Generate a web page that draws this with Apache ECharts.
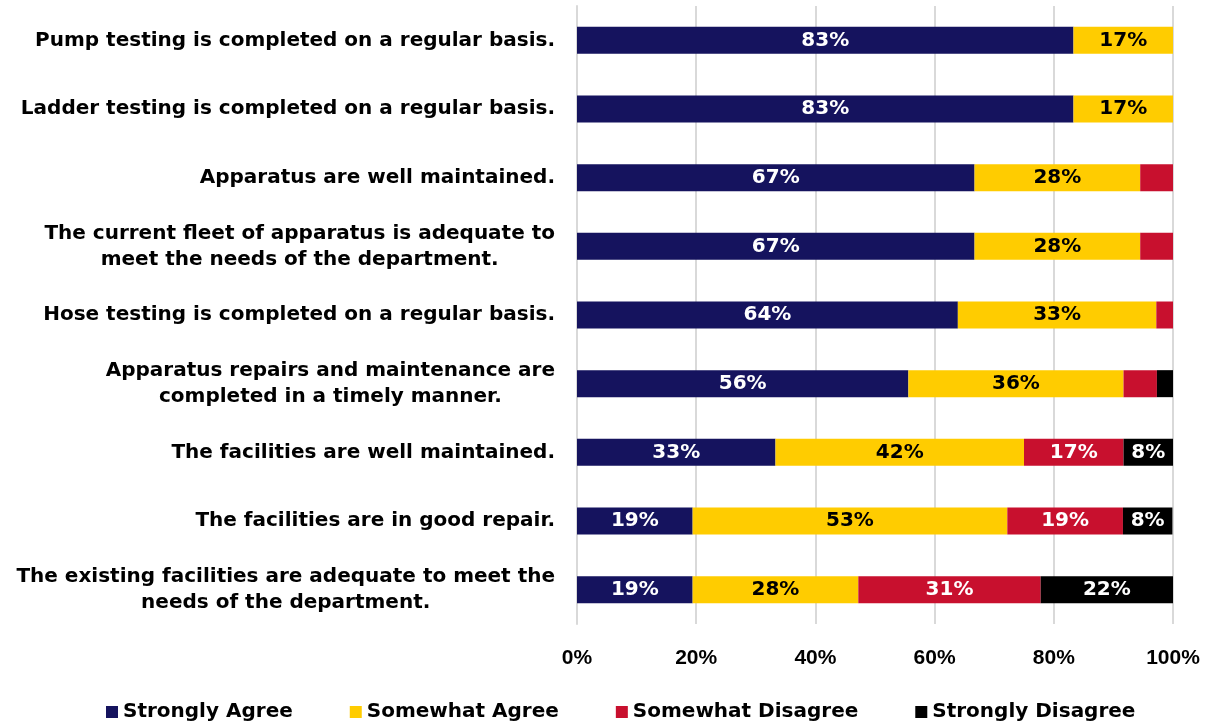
<!DOCTYPE html>
<html>
<head>
<meta charset="utf-8">
<script src="https://cdn.jsdelivr.net/npm/echarts@6/dist/echarts.min.js"></script>
<style>
  html, body { margin: 0; padding: 0; background: #fff; }
  #chart { width: 1212px; height: 727px; }
</style>
</head>
<body>
<div id="chart"></div>
<script>
// Survey statements, top to bottom
const categories = [
  'Pump testing is completed on a regular basis.',
  'Ladder testing is completed on a regular basis.',
  'Apparatus are well maintained.',
  'The current fleet of apparatus is adequate to\nmeet the needs of the department.',
  'Hose testing is completed on a regular basis.',
  'Apparatus repairs and maintenance are\ncompleted in a timely manner.',
  'The facilities are well maintained.',
  'The facilities are in good repair.',
  'The existing facilities are adequate to meet the\nneeds of the department.'
];

// Share of responses (%) per statement
const stronglyAgree    = [83.3, 83.3, 66.7, 66.7, 63.9, 55.6, 33.3, 19.4, 19.4];
const somewhatAgree    = [16.7, 16.7, 27.8, 27.8, 33.3, 36.1, 41.7, 52.8, 27.8];
const somewhatDisagree = [0, 0, 5.6, 5.6, 2.8, 5.6, 16.7, 19.4, 30.6];
const stronglyDisagree = [0, 0, 0, 0, 0, 2.8, 8.3, 8.3, 22.2];

const tickLabels = ['0%', '20%', '40%', '60%', '80%', '100%'];

const wideFont = '"DejaVu Sans", Verdana, sans-serif';
const narrowFont = '"Liberation Sans", Arial, sans-serif';

function seriesOf(name, data, color, textColor) {
  return {
    name: name,
    type: 'bar',
    stack: 'total',
    data: data,
    barWidth: 27,
    itemStyle: { color: color },
    label: {
      show: true,
      position: 'inside',
      color: textColor,
      fontFamily: wideFont,
      fontWeight: 'bold',
      fontSize: 20,
      formatter: p => (p.value >= 7 ? Math.round(p.value) + '%' : '')
    }
  };
}

const chart = echarts.init(document.getElementById('chart'), null, { renderer: 'canvas' });
chart.setOption({
  animation: false,
  backgroundColor: '#ffffff',
  textStyle: { fontFamily: wideFont },
  grid: { left: 577, right: 39, top: 6, bottom: 103, containLabel: false },
  xAxis: {
    type: 'value',
    min: 0,
    max: 100,
    interval: 20,
    axisLine: { show: false },
    axisTick: { show: false },
    splitLine: { show: true, lineStyle: { color: '#d9d9d9', width: 2 } },
    axisLabel: {
      margin: 24,
      color: '#000',
      fontFamily: narrowFont,
      fontWeight: 'bold',
      fontSize: 21,
      formatter: v => tickLabels[Math.round(v / 20)]
    }
  },
  yAxis: {
    type: 'category',
    inverse: true,
    data: categories,
    axisLine: { show: true, lineStyle: { color: '#d9d9d9', width: 2 } },
    axisTick: { show: false },
    axisLabel: {
      margin: 22,
      color: '#000',
      fontFamily: wideFont,
      fontWeight: 'bold',
      fontSize: 20,
      lineHeight: 26,
      formatter: v => v.split('\n').map(l => '{c|' + l + '}').join('\n'),
      rich: {
        c: {
          align: 'center',
          color: '#000',
          fontFamily: wideFont,
          fontWeight: 'bold',
          fontSize: 20,
          lineHeight: 26
        }
      }
    }
  },
  legend: {
    bottom: 0,
    left: 101,
    itemWidth: 12,
    itemHeight: 12,
    itemGap: 57,
    icon: 'rect',
    textStyle: { color: '#000', fontFamily: wideFont, fontWeight: 'bold', fontSize: 20 },
    data: ['Strongly Agree', 'Somewhat Agree', 'Somewhat Disagree', 'Strongly Disagree']
  },
  series: [
    seriesOf('Strongly Agree', stronglyAgree, '#15135e', '#ffffff'),
    seriesOf('Somewhat Agree', somewhatAgree, '#ffcc00', '#000000'),
    seriesOf('Somewhat Disagree', somewhatDisagree, '#c8102e', '#ffffff'),
    seriesOf('Strongly Disagree', stronglyDisagree, '#000000', '#ffffff')
  ]
});
</script>
</body>
</html>
